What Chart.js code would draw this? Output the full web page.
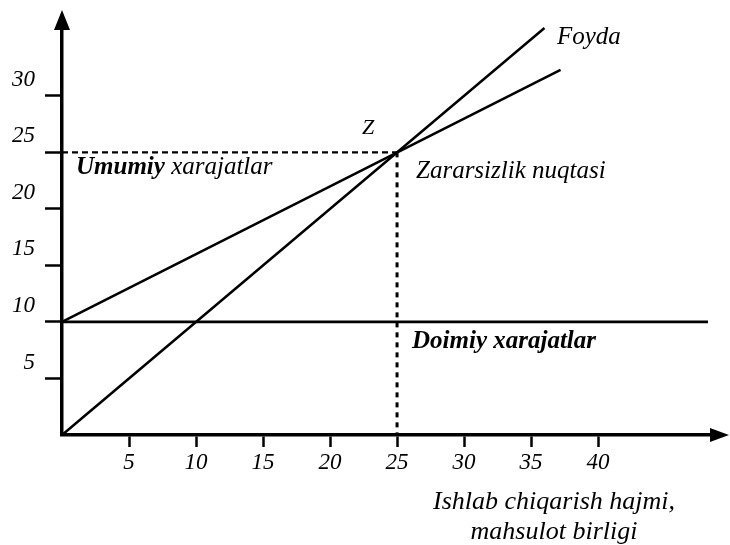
<!DOCTYPE html>
<html>
<head>
<meta charset="utf-8">
<script src="https://cdn.jsdelivr.net/npm/chart.js@4/dist/chart.umd.min.js"></script>
<style>
html,body{margin:0;padding:0;background:#fff;}
#wrap{width:730px;height:545px;position:relative;}
</style>
</head>
<body>
<div id="wrap"><canvas id="c"></canvas></div>
<script>
// ---- data ----
const xTickValues = [5, 10, 15, 20, 25, 30, 35, 40];
const yTickValues = [5, 10, 15, 20, 25, 30];
const revenueX = [0, 36];          // "Foyda" line
const revenueY = [0, 36];
const totalCostX = [0, 37.2];      // "Umumiy xarajatlar"
const totalCostY = [10, 32.3];
const fixedCostX = [0, 48.2];      // "Doimiy xarajatlar"
const fixedCostY = [10, 10];
const breakEvenX = 25;             // "Zararsizlik nuqtasi"
const breakEvenY = 25;

const pts = (xs, ys) => xs.map((x, i) => ({x: x, y: ys[i]}));

const SERIF = '"Liberation Serif", "DejaVu Serif", serif';

const overlay = {
  id: 'overlay',
  afterDraw(chart) {
    const ctx = chart.ctx;
    const a = chart.chartArea;
    const xs = chart.scales.x, ys = chart.scales.y;
    const x0 = xs.getPixelForValue(0), y0 = ys.getPixelForValue(0);
    ctx.save();
    ctx.fillStyle = '#000';
    // arrows
    ctx.beginPath();
    ctx.moveTo(x0, 10); ctx.lineTo(x0 - 8, a.top + 2); ctx.lineTo(x0 + 8, a.top + 2); ctx.closePath(); ctx.fill();
    ctx.beginPath();
    ctx.moveTo(729, y0); ctx.lineTo(a.right - 2, y0 - 7); ctx.lineTo(a.right - 2, y0 + 7); ctx.closePath(); ctx.fill();
    // labels
    ctx.textBaseline = 'alphabetic';
    ctx.textAlign = 'left';
    ctx.font = 'italic 25px ' + SERIF;
    ctx.fillText('Foyda', 557, 44);
    ctx.font = 'italic 22px ' + SERIF;
    ctx.fillText('Z', 362, 134);
    ctx.font = 'italic 25px ' + SERIF;
    ctx.fillText('Zararsizlik nuqtasi', 416, 178);
    ctx.font = 'bold italic 25px ' + SERIF;
    ctx.fillText('Doimiy xarajatlar', 412, 348);
    ctx.font = 'bold italic 25px ' + SERIF;
    ctx.fillText('Umumiy', 76, 174);
    const w = ctx.measureText('Umumiy ').width;
    ctx.font = 'italic 25px ' + SERIF;
    ctx.fillText('xarajatlar', 76 + w, 174);
    ctx.textAlign = 'center';
    ctx.font = 'italic 26px ' + SERIF;
    ctx.fillText('Ishlab chiqarish hajmi,', 554, 509);
    ctx.fillText('mahsulot birligi', 554, 539);
    ctx.restore();
  }
};

new Chart(document.getElementById('c'), {
  type: 'scatter',
  data: {
    datasets: [
      {data: pts(revenueX, revenueY), showLine: true, borderColor: '#000', borderWidth: 2.5, pointRadius: 0, clip: false},
      {data: pts(totalCostX, totalCostY), showLine: true, borderColor: '#000', borderWidth: 2.5, pointRadius: 0, clip: false},
      {data: pts(fixedCostX, fixedCostY), showLine: true, borderColor: '#000', borderWidth: 2.8, pointRadius: 0, clip: false},
      {data: [{x: 0, y: breakEvenY}, {x: breakEvenX, y: breakEvenY}], showLine: true, borderColor: '#000', borderWidth: 2.4, borderDash: [6, 4], pointRadius: 0, clip: false},
      {data: [{x: breakEvenX, y: breakEvenY}, {x: breakEvenX, y: 0}], showLine: true, borderColor: '#000', borderWidth: 3, borderDash: [5, 5], pointRadius: 0, clip: false}
    ]
  },
  options: {
    responsive: true,
    maintainAspectRatio: false,
    animation: false,
    layout: {padding: {left: 0, right: 18, top: 28, bottom: 0}},
    plugins: {legend: {display: false}, tooltip: {enabled: false}},
    scales: {
      x: {
        type: 'linear', min: 0, max: 48.5,
        afterBuildTicks: s => { s.ticks = xTickValues.map(v => ({value: v})); },
        afterFit: s => { s.height = 110; },
        grid: {drawOnChartArea: false, drawTicks: true, tickLength: 12, tickWidth: 2.5, tickColor: '#000'},
        border: {display: true, color: '#000', width: 3.5},
        ticks: {color: '#000', padding: 2, font: {family: SERIF, style: 'italic', size: 23}, maxRotation: 0}
      },
      y: {
        type: 'linear', min: 0, max: 36,
        afterBuildTicks: s => { s.ticks = yTickValues.map(v => ({value: v})); },
        afterFit: s => { s.width = 62; },
        grid: {drawOnChartArea: false, drawTicks: true, tickLength: 17, tickWidth: 2.5, tickColor: '#000'},
        border: {display: true, color: '#000', width: 3.5},
        ticks: {color: '#000', padding: 10, labelOffset: -16, font: {family: SERIF, style: 'italic', size: 23}}
      }
    }
  },
  plugins: [overlay]
});
</script>
</body>
</html>
